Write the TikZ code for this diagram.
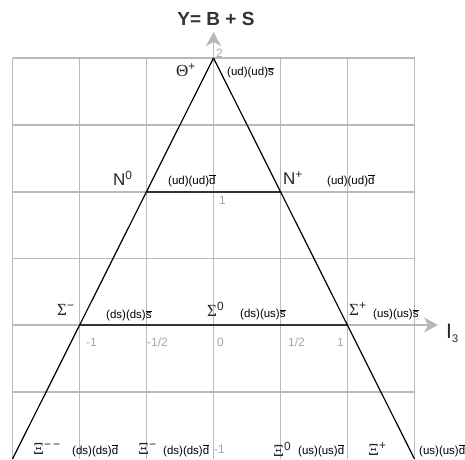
\documentclass[tikz,border=0pt]{standalone}
\usepackage{fontspec}
\setmainfont{Liberation Sans}
\newfontfamily\grk{Liberation Serif}
\usetikzlibrary{arrows.meta}
\newcommand\ab[1]{\ensuremath{\overline{\mbox{#1}}}}
\tikzset{
  gridline/.style={draw=black!27, line width=1.3pt},
  side/.style={draw=black, line width=1.2pt},
  bar/.style={draw=black!80, line width=2.6pt},
  axis/.style={draw=black!28, line width=1.6pt, -{Stealth[length=14pt,width=15pt,inset=4pt]}},
  part/.style={font=\fontsize{17}{17}\selectfont, inner sep=0pt, anchor=west, text=black!85},
  quark/.style={font=\fontsize{11.5}{11.5}\selectfont, inner sep=0pt, anchor=west, text=black},
  num/.style={font=\fontsize{12}{12}\selectfont, inner sep=0pt, anchor=west, text=black!35},
}
\begin{document}
\begin{tikzpicture}[x=1pt,y=-1pt]
\useasboundingbox (0,0) rectangle (465,459);
% grid
\foreach \x in {12.5,79.5,146.5,213.5,280.5,347.5,414.5}
  \draw[gridline] (\x,58) -- (\x,459);
\foreach \y in {58,125,192,258.5,325,392}
  \draw[gridline] (12.5,\y) -- (414.5,\y);
% key points
\coordinate (apex) at (213.5,58);
\coordinate (bl) at (12.5,459);
\coordinate (br) at (414.5,459);
\coordinate (n0) at (146.5,192);
\coordinate (np) at (280.5,192);
\coordinate (sm) at (79.5,325);
\coordinate (sp) at (347.5,325);
\coordinate (ytip) at (213.5,32);
\coordinate (xtip) at (438,325);
% axes
\draw[axis] (apex) -- (ytip);
\draw[axis] (sp) -- (xtip);
% bars
\draw[bar] (n0) -- (np);
\draw[bar] (sm) -- (sp);
% sides
\draw[side] (apex) -- (bl);
\draw[side] (apex) -- (br);
% titles
\node[font=\fontsize{19}{19}\selectfont\bfseries, text=black!80, inner sep=0pt] (title) at (216,19) {Y= B + S};
\node[font=\fontsize{21}{21}\selectfont, text=black!85, inner sep=0pt, anchor=west] (i3) at (446,333) {I\raisebox{-4pt}{\fontsize{11}{11}\selectfont 3}};
% numbers
\node[num] (n2) at (216,53) {2};
\node[num] (n1) at (219,200) {1};
\node[num] (xm1) at (86,342) {-1};
\node[num] (xmh) at (147,342) {-1/2};
\node[num] (x0) at (217,342) {0};
\node[num] (xh) at (288,342) {1/2};
\node[num] (x1) at (337,342) {1};
\node[num] (ym1) at (214,449) {-1};
% particles
\node[part] (theta) at (176,70) {{\grk Θ}\textsuperscript{+}};
\node[quark] (qtheta) at (227,73) {(ud)(ud)\ab{s}};
\node[part] (N0) at (113,178) {N\textsuperscript{0}};
\node[quark] (qN0) at (168,181) {(ud)(ud)\ab{d}};
\node[part] (Np) at (283,178) {N\textsuperscript{+}};
\node[quark] (qNp) at (327,181) {(ud)(ud)\ab{d}};
\node[part] (Sm) at (57,310) {{\grk Σ}\textsuperscript{−}};
\node[quark] (qSm) at (106,316) {(ds)(ds)\ab{s}};
\node[part] (S0) at (207,309) {{\grk Σ}\textsuperscript{0}};
\node[quark] (qS0) at (240,315) {(ds)(us)\ab{s}};
\node[part] (Sp) at (349,309) {{\grk Σ}\textsuperscript{+}};
\node[quark] (qSp) at (373,315) {(us)(us)\ab{s}};
\node[part] (Xmm) at (33,449) {{\grk Ξ}\textsuperscript{−\,−}};
\node[quark] (qXmm) at (72,451) {(ds)(ds)\ab{d}};
\node[part] (Xm) at (138,449) {{\grk Ξ}\textsuperscript{−}};
\node[quark] (qXm) at (163,451) {(ds)(ds)\ab{d}};
\node[part] (X0) at (273,449) {{\grk Ξ}\textsuperscript{0}};
\node[quark] (qX0) at (298,451) {(us)(us)\ab{d}};
\node[part] (Xp) at (368,449) {{\grk Ξ}\textsuperscript{+}};
\node[quark] (qXp) at (419,451) {(us)(us)\ab{d}};
\end{tikzpicture}
\end{document}
